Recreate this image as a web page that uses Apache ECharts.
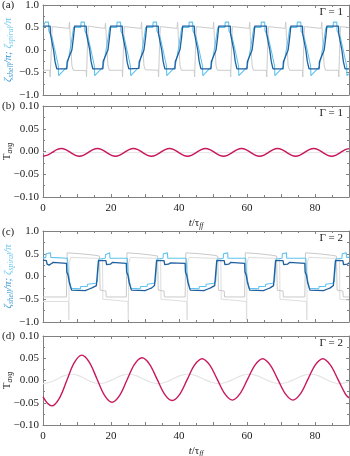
<!DOCTYPE html>
<html lang="en">
<head>
<meta charset="UTF-8">
<title>zeta / T_avg</title>
<script src="https://cdn.jsdelivr.net/npm/echarts/dist/echarts.min.js"></script>
<style>
  html, body { margin: 0; padding: 0; background: #fff; }
  #chart { width: 350px; height: 456px; }
</style>
</head>
<body>
<div id="chart"></div>
<script>
// tick labels
var xTickLabels = [0, 20, 40, 60, 80];
var zetaTicks = [-1, -0.5, 0, 0.5, 1];
var tavgTicks = [-0.1, -0.05, 0, 0.05, 0.1];

// (a) Gamma = 1, zeta_shell / pi  [t, value]
var shellG1 = [
  [0, 0.53], [2.1, 0.53], [2.2, 0.35], [3.1, 0.0], [3.55, -0.26], [4.05, -0.42], [7.0, -0.42], [7.1, -0.26], [8.5, 0.0], [9.0, 0.31], [9.3, 0.53],
  [12.7, 0.53], [12.8, 0.35], [13.7, 0.02], [14.15, -0.26], [14.65, -0.42], [17.6, -0.42], [17.7, -0.25], [19.1, 0.0], [19.6, 0.31], [19.9, 0.53],
  [23.3, 0.53], [23.4, 0.34], [24.3, 0.0], [24.75, -0.27], [25.25, -0.42], [28.2, -0.41], [28.3, -0.26], [29.7, 0.0], [30.2, 0.3], [30.5, 0.53],
  [33.9, 0.53], [34.0, 0.35], [34.9, 0.0], [35.35, -0.26], [35.85, -0.42], [38.8, -0.42], [38.9, -0.26], [40.3, 0.01], [40.8, 0.31], [41.1, 0.53],
  [44.5, 0.53], [44.6, 0.35], [45.5, 0.0], [45.95, -0.26], [46.45, -0.42], [49.4, -0.42], [49.5, -0.26], [50.9, 0.0], [51.4, 0.31], [51.7, 0.53],
  [55.1, 0.53], [55.2, 0.34], [56.1, 0.0], [56.55, -0.26], [57.05, -0.42], [60.0, -0.42], [60.1, -0.26], [61.5, 0.0], [62.0, 0.31], [62.3, 0.53],
  [65.7, 0.53], [65.8, 0.35], [66.7, 0.0], [67.15, -0.26], [67.65, -0.42], [70.6, -0.42], [70.7, -0.26], [72.1, 0.0], [72.6, 0.31], [72.9, 0.53],
  [76.3, 0.53], [76.4, 0.35], [77.3, 0.0], [77.75, -0.26], [78.25, -0.42], [81.2, -0.42], [81.3, -0.26], [82.7, 0.0], [83.2, 0.31], [83.5, 0.53],
  [86.9, 0.53], [87.0, 0.35], [87.9, 0.0], [88.35, -0.26], [88.85, -0.42], [90, -0.42]
];

// (a) Gamma = 1, zeta_spiral / pi
var spiralG1 = [
  [0, 0.5], [0.5, 0.5], [0.6, 0.62], [1.6, 0.62], [1.7, 0.42],
  [2.1, 0.42], [2.6, 0.3], [3.5, 0.0], [4.5, -0.35], [4.6, -0.57], [7.0, -0.38], [7.5, -0.2], [8.4, 0.2], [9.0, 0.5], [11.1, 0.5], [11.2, 0.62], [12.2, 0.62], [12.3, 0.42],
  [12.7, 0.42], [13.2, 0.3], [14.1, 0.0], [15.1, -0.35], [15.2, -0.57], [17.6, -0.38], [18.1, -0.2], [19.0, 0.2], [19.6, 0.5], [21.7, 0.5], [21.8, 0.62], [22.8, 0.62], [22.9, 0.42],
  [23.3, 0.42], [23.8, 0.3], [24.7, 0.0], [25.7, -0.35], [25.8, -0.57], [28.2, -0.38], [28.7, -0.2], [29.6, 0.2], [30.2, 0.5], [32.3, 0.5], [32.4, 0.62], [33.4, 0.62], [33.5, 0.42],
  [33.9, 0.42], [34.4, 0.3], [35.3, 0.0], [36.3, -0.35], [36.4, -0.57], [38.8, -0.38], [39.3, -0.2], [40.2, 0.2], [40.8, 0.5], [42.9, 0.5], [43.0, 0.62], [44.0, 0.62], [44.1, 0.42],
  [44.5, 0.42], [45.0, 0.3], [45.9, 0.0], [46.9, -0.35], [47.0, -0.57], [49.4, -0.38], [49.9, -0.2], [50.8, 0.2], [51.4, 0.5], [53.5, 0.5], [53.6, 0.62], [54.6, 0.62], [54.7, 0.42],
  [55.1, 0.42], [55.6, 0.3], [56.5, 0.0], [57.5, -0.35], [57.6, -0.57], [60.0, -0.38], [60.5, -0.2], [61.4, 0.2], [62.0, 0.5], [64.1, 0.5], [64.2, 0.62], [65.2, 0.62], [65.3, 0.42],
  [65.7, 0.42], [66.2, 0.3], [67.1, 0.0], [68.1, -0.35], [68.2, -0.57], [70.6, -0.38], [71.1, -0.2], [72.0, 0.2], [72.6, 0.5], [74.7, 0.5], [74.8, 0.62], [75.8, 0.62], [75.9, 0.42],
  [76.3, 0.42], [76.8, 0.3], [77.7, 0.0], [78.7, -0.35], [78.8, -0.57], [81.2, -0.38], [81.7, -0.2], [82.6, 0.2], [83.2, 0.5], [85.3, 0.5], [85.4, 0.62], [86.4, 0.62], [86.5, 0.42],
  [86.9, 0.42], [87.4, 0.3], [88.3, 0.0], [89.3, -0.35], [89.4, -0.57], [90, -0.53]
];

// (a) Gamma = 1, grey reference curve
var greyG1 = [
  [0, -0.45], [2.0, -0.45], [2.1, -0.6], [2.4, -0.1], [2.7, 0.52], [7.6, 0.48], [7.8, 0.62], [8.0, 0.3], [8.5, -0.35], [8.9, -0.45],
  [12.7, -0.46], [12.8, -0.6], [13.0, -0.1], [13.3, 0.53], [18.2, 0.48], [18.4, 0.6], [18.6, 0.3], [19.1, -0.35], [19.5, -0.45],
  [23.3, -0.45], [23.4, -0.6], [23.6, -0.1], [23.9, 0.52], [28.8, 0.48], [29.0, 0.62], [29.2, 0.3], [29.7, -0.35], [30.1, -0.44],
  [33.9, -0.45], [34.0, -0.6], [34.2, -0.1], [34.5, 0.52], [39.4, 0.48], [39.6, 0.62], [39.8, 0.3], [40.3, -0.35], [40.7, -0.45],
  [44.5, -0.45], [44.6, -0.6], [44.8, -0.1], [45.1, 0.52], [50.0, 0.48], [50.2, 0.62], [50.4, 0.3], [50.9, -0.35], [51.3, -0.45],
  [55.1, -0.45], [55.2, -0.6], [55.4, -0.1], [55.7, 0.52], [60.6, 0.48], [60.8, 0.62], [61.0, 0.3], [61.5, -0.35], [61.9, -0.45],
  [65.7, -0.45], [65.8, -0.6], [66.0, -0.1], [66.3, 0.52], [71.2, 0.48], [71.4, 0.62], [71.6, 0.3], [72.1, -0.35], [72.5, -0.45],
  [76.3, -0.45], [76.4, -0.6], [76.6, -0.1], [76.9, 0.52], [81.8, 0.48], [82.0, 0.62], [82.2, 0.3], [82.7, -0.35], [83.1, -0.45],
  [86.9, -0.45], [87.0, -0.6], [87.2, -0.1], [87.5, 0.52], [90, 0.5]
];

// (b) Gamma = 1, T_avg
var tavgG1 = [
  [0, -0.0105], [1.35, -0.008], [2.75, -0.002], [4.05, 0.004], [5.4, 0.0065], [6.7, 0.004], [8.05, -0.002], [9.4, -0.008],
  [10.7, -0.0105], [12.0, -0.008], [13.35, -0.002], [14.7, 0.004], [16.0, 0.0065], [17.3, 0.004], [18.65, -0.002], [20.0, -0.008],
  [21.3, -0.0105], [22.6, -0.008], [23.95, -0.002], [25.3, 0.004], [26.6, 0.0065], [27.9, 0.004], [29.25, -0.002], [30.6, -0.008],
  [31.9, -0.0105], [33.2, -0.008], [34.55, -0.002], [35.9, 0.004], [37.2, 0.0065], [38.5, 0.004], [39.85, -0.002], [41.2, -0.008],
  [42.5, -0.0105], [43.8, -0.008], [45.15, -0.002], [46.5, 0.004], [47.8, 0.0065], [49.1, 0.004], [50.45, -0.002], [51.8, -0.008],
  [53.1, -0.0105], [54.4, -0.008], [55.75, -0.002], [57.1, 0.004], [58.4, 0.0065], [59.7, 0.004], [61.05, -0.002], [62.4, -0.008],
  [63.7, -0.0105], [65.0, -0.008], [66.35, -0.002], [67.7, 0.004], [69.0, 0.0065], [70.3, 0.004], [71.65, -0.002], [73.0, -0.008],
  [74.3, -0.0105], [75.6, -0.008], [76.95, -0.002], [78.3, 0.004], [79.6, 0.0065], [80.9, 0.004], [82.25, -0.002], [83.6, -0.008],
  [84.9, -0.0105], [86.2, -0.008], [87.55, -0.002], [88.9, 0.004], [90, 0.0064]
];
var tavgGreyG1 = [[0, -0.0025], [45, -0.0025], [90, -0.0025]];

// (c) Gamma = 2, zeta_shell / pi
var shellG2 = [
  [0, 0.36], [1.0, 0.35], [1.2, 0.27], [1.8, 0.25], [2.4, 0.28], [3.0, 0.31], [6.9, 0.29],
  [7.0, 0.1], [7.4, 0.02], [7.7, -0.12], [8.0, -0.2], [8.4, -0.3], [12.4, -0.31], [13.4, -0.28], [14.4, -0.25], [15.7, -0.2], [16.2, -0.18],
  [16.3, 0.35], [18.5, 0.35], [18.7, 0.26], [19.2, 0.24], [19.8, 0.27], [20.4, 0.31], [24.5, 0.29],
  [24.6, 0.1], [25.0, 0.02], [25.3, -0.12], [25.6, -0.2], [26.0, -0.3], [30.0, -0.31], [31.0, -0.28], [32.0, -0.25], [32.8, -0.2], [33.3, -0.18],
  [33.4, 0.35], [35.6, 0.35], [35.8, 0.26], [36.3, 0.23], [36.9, 0.27], [37.5, 0.3], [41.8, 0.29],
  [41.9, 0.1], [42.3, 0.02], [42.6, -0.12], [42.9, -0.2], [43.3, -0.3], [47.3, -0.31], [48.3, -0.28], [49.3, -0.25], [50.5, -0.2], [51.0, -0.18],
  [51.1, 0.35], [53.3, 0.35], [53.5, 0.26], [54.0, 0.24], [54.6, 0.27], [55.2, 0.31], [59.3, 0.29],
  [59.4, 0.1], [59.8, 0.02], [60.1, -0.12], [60.4, -0.2], [60.8, -0.3], [64.8, -0.31], [65.8, -0.28], [66.8, -0.25], [67.8, -0.2], [68.3, -0.18],
  [68.4, 0.35], [70.6, 0.35], [70.8, 0.26], [71.3, 0.24], [71.9, 0.27], [72.5, 0.31], [77.0, 0.29],
  [77.1, 0.1], [77.5, 0.02], [77.8, -0.12], [78.1, -0.2], [78.5, -0.3], [82.5, -0.31], [83.5, -0.28], [84.5, -0.25], [85.4, -0.2], [85.9, -0.18],
  [86.0, 0.35], [88.2, 0.35], [88.4, 0.26], [88.9, 0.24], [89.5, 0.27], [90, 0.3]
];

// (c) Gamma = 2, zeta_spiral / pi
var spiralG2 = [
  [0, 0.4], [0.8, 0.42], [0.9, 0.5], [2.2, 0.52], [2.3, 0.42], [7.2, 0.4], [7.4, 0.1], [7.8, -0.1], [8.3, -0.26], [11.0, -0.27], [11.1, -0.22], [13.0, -0.22], [13.1, -0.17], [15.5, -0.15], [16.0, -0.1],
  [16.4, 0.38], [18.3, 0.4], [18.4, 0.48], [19.6, 0.52], [19.7, 0.4], [24.8, 0.4], [25.0, 0.1], [25.4, -0.1], [25.9, -0.26], [28.6, -0.27], [28.7, -0.22], [30.6, -0.22], [30.7, -0.17], [32.6, -0.15], [33.1, -0.1],
  [33.5, 0.38], [35.3, 0.4], [35.4, 0.5], [36.6, 0.52], [36.7, 0.4], [42.1, 0.4], [42.3, 0.1], [42.7, -0.1], [43.2, -0.26], [45.9, -0.27], [46.0, -0.22], [47.9, -0.22], [48.0, -0.17], [50.3, -0.15], [50.8, -0.1],
  [51.2, 0.38], [53.0, 0.4], [53.1, 0.5], [54.3, 0.52], [54.4, 0.4], [59.6, 0.4], [59.8, 0.1], [60.2, -0.1], [60.7, -0.26], [63.4, -0.27], [63.5, -0.22], [65.4, -0.22], [65.5, -0.17], [67.6, -0.15], [68.1, -0.1],
  [68.5, 0.38], [70.3, 0.4], [70.4, 0.5], [71.6, 0.52], [71.7, 0.4], [77.3, 0.4], [77.5, 0.1], [77.9, -0.1], [78.4, -0.26], [81.1, -0.27], [81.2, -0.22], [83.1, -0.22], [83.2, -0.17], [85.2, -0.15], [85.7, -0.1],
  [86.1, 0.38], [87.9, 0.4], [88.0, 0.5], [89.2, 0.52], [89.3, 0.42], [90, 0.42]
];

// (c) Gamma = 2, grey reference curves
var greyAG2 = [
  [0, -0.45], [6.9, -0.45], [7.1, 0.52], [11, 0.5], [15, 0.47], [16.6, 0.45], [16.8, -0.3], [18.5, -0.32], [18.6, -0.45],
  [24.5, -0.45], [24.7, 0.52], [28.5, 0.5], [32, 0.47], [33.7, 0.45], [33.9, -0.3], [35.6, -0.32], [35.7, -0.45],
  [41.8, -0.45], [42.0, 0.52], [46, 0.5], [50, 0.47], [51.4, 0.45], [51.6, -0.3], [53.3, -0.32], [53.4, -0.45],
  [59.3, -0.45], [59.5, 0.52], [63.5, 0.5], [67, 0.47], [68.7, 0.45], [68.9, -0.3], [70.6, -0.32], [70.7, -0.45],
  [77.0, -0.45], [77.2, 0.52], [81, 0.5], [84.5, 0.47], [86.3, 0.45], [86.5, -0.3], [88.2, -0.32], [88.3, -0.45], [90, -0.45]
];
var greyBG2 = [
  [0, -0.55], [7.5, -0.55], [7.6, -0.95], [7.7, 0.3], [8.2, 0.42], [15.5, 0.4], [17.5, 0.4], [17.6, -0.5], [21, -0.52],
  [25.0, -0.55], [25.1, -0.95], [25.2, 0.3], [25.7, 0.42], [32.5, 0.4], [34.6, 0.4], [34.7, -0.5], [38, -0.52],
  [42.3, -0.55], [42.4, -0.95], [42.5, 0.3], [43, 0.42], [50, 0.4], [52.3, 0.4], [52.4, -0.5], [56, -0.52],
  [59.8, -0.55], [59.9, -0.95], [60, 0.3], [60.5, 0.42], [67.5, 0.4], [69.6, 0.4], [69.7, -0.5], [73, -0.52],
  [77.5, -0.55], [77.6, -0.95], [77.7, 0.3], [78.2, 0.42], [85, 0.4], [87.2, 0.4], [87.3, -0.5], [90, -0.52]
];

// (d) Gamma = 2, T_avg
var tavgG2 = [
  [0, -0.037], [1.3, -0.051], [2.6, -0.057], [4.8, -0.040], [7.0, 0.0], [9.2, 0.040], [11.4, 0.057],
  [13.6, 0.0415], [15.85, 0.004], [18.1, -0.0335], [20.3, -0.049], [22.5, -0.034], [24.7, 0.001], [26.9, 0.036],
  [29.1, 0.051], [31.3, 0.037], [33.55, 0.003], [35.8, -0.031], [38.0, -0.045], [40.2, -0.031], [42.4, 0.002],
  [44.6, 0.035], [46.8, 0.049], [49.0, 0.035], [51.25, 0.0025], [53.5, -0.030], [55.7, -0.044], [57.9, -0.030],
  [60.15, 0.0025], [62.4, 0.035], [64.6, 0.049], [66.8, 0.035], [69.05, 0.0025], [71.3, -0.030], [73.5, -0.044],
  [75.7, -0.030], [77.9, 0.0025], [80.1, 0.035], [82.3, 0.049], [84.5, 0.035], [86.75, 0.0025], [89.0, -0.031], [90, -0.039]
];
var tavgGreyG2 = [
  [0, -0.007], [2.1, -0.004], [4.2, 0.0035], [6.3, 0.011], [8.4, 0.014], [10.45, 0.011], [12.5, 0.0035], [14.55, -0.004],
  [16.6, -0.007], [18.75, -0.004], [20.9, 0.0035], [23.05, 0.011], [25.2, 0.014], [27.35, 0.011], [29.5, 0.0035], [31.7, -0.004],
  [33.9, -0.007], [36.05, -0.004], [38.2, 0.0035], [40.4, 0.011], [42.6, 0.014], [44.9, 0.011], [47.2, 0.0035], [49.5, -0.004],
  [51.8, -0.007], [54.0, -0.004], [56.2, 0.0035], [58.4, 0.011], [60.6, 0.014], [62.85, 0.011], [65.1, 0.0035], [67.35, -0.004],
  [69.6, -0.007], [71.9, -0.004], [74.2, 0.0035], [76.5, 0.011], [78.8, 0.014], [80.9, 0.011], [83.0, 0.0035], [85.1, -0.004],
  [87.2, -0.007], [90, -0.002]
];

var FONT = 'Liberation Serif';
var FRAME = '#808080';
var INK = '#1a1a1a';
var SHELL = '#1f5f9e';
var SPIRAL = '#5ec3ef';
var RED = '#c8175c';

function fmtY(dec) {
  return function (v) {
    var s = Math.abs(v) < 1e-9 ? (0).toFixed(dec) : v.toFixed(dec);
    return s.replace('-', '\u2212');
  };
}

function xAx(gi, pos, labels) {
  return {
    type: 'value', gridIndex: gi, position: pos, min: 0, max: 90, interval: 10,
    axisLine: { show: true, onZero: false, lineStyle: { color: FRAME, width: 1 } },
    axisTick: { show: true, inside: true, length: 3, lineStyle: { color: FRAME } },
    minorTick: { show: true, splitNumber: 2, length: 2, lineStyle: { color: FRAME } },
    splitLine: { show: false },
    axisLabel: {
      show: labels, margin: 6, fontFamily: FONT, fontSize: 11, color: INK,
      formatter: function (v) { return xTickLabels.indexOf(v) >= 0 ? String(v) : ''; }
    },
    name: labels ? '{i|t}{n|/\u03c4}{sub|ff}' : '',
    nameLocation: 'middle', nameGap: 19, nameMoveOverlap: false,
    nameTextStyle: {
      rich: {
        i: { fontFamily: FONT, fontSize: 11, fontStyle: 'italic', color: INK, lineHeight: 14 },
        n: { fontFamily: FONT, fontSize: 11, color: INK, lineHeight: 14 },
        sub: { fontFamily: FONT, fontSize: 7.5, fontStyle: 'italic', color: INK, verticalAlign: 'bottom', lineHeight: 10 }
      }
    }
  };
}

function yAx(gi, pos, kind) {
  var zeta = kind === 'zeta';
  var ticks = zeta ? zetaTicks : tavgTicks;
  var left = pos === 'left';
  return {
    type: 'value', gridIndex: gi, position: pos,
    min: ticks[0], max: ticks[ticks.length - 1], interval: ticks[1] - ticks[0],
    axisLine: { show: true, onZero: false, lineStyle: { color: FRAME, width: 1 } },
    axisTick: { show: true, inside: true, length: 3, lineStyle: { color: FRAME } },
    minorTick: { show: true, splitNumber: 2, length: 2, lineStyle: { color: FRAME } },
    splitLine: { show: false },
    axisLabel: { show: left, margin: 4, fontFamily: FONT, fontSize: 11, color: INK, formatter: fmtY(zeta ? 1 : 2) },
    name: !left ? '' : (zeta
      ? '{a|\u03b6}{as|shell}{a|/\u03c0; }{b|\u03b6}{bs|spiral}{b|/\u03c0}'
      : '{t|T}{sub|avg}'),
    nameLocation: 'middle', nameRotate: 90, nameGap: zeta ? 28 : 29, nameMoveOverlap: false,
    nameTextStyle: {
      rich: {
        a: { fontFamily: FONT, fontSize: 11, fontStyle: 'italic', color: '#3c9ad6', lineHeight: 14 },
        as: { fontFamily: FONT, fontSize: 7.5, fontStyle: 'italic', color: '#3c9ad6', verticalAlign: 'bottom', lineHeight: 10 },
        b: { fontFamily: FONT, fontSize: 11, fontStyle: 'italic', color: '#6cc8f0', lineHeight: 14 },
        bs: { fontFamily: FONT, fontSize: 7.5, fontStyle: 'italic', color: '#6cc8f0', verticalAlign: 'bottom', lineHeight: 10 },
        t: { fontFamily: FONT, fontSize: 11, color: INK, lineHeight: 14 },
        sub: { fontFamily: FONT, fontSize: 7.5, fontStyle: 'italic', color: INK, verticalAlign: 'bottom', lineHeight: 10 }
      }
    }
  };
}

function line(data, gi, color, width, z) {
  return {
    type: 'line', data: data, xAxisIndex: gi * 2, yAxisIndex: gi * 2,
    showSymbol: false, symbol: 'none', smooth: false, z: z || 2,
    lineStyle: { color: color, width: width }, silent: true
  };
}

function smoothLine(data, gi, color, width, z) {
  var s = line(data, gi, color, width, z);
  s.smooth = 0.35;
  return s;
}

var grids = [
  { left: 43, right: 1, top: 5, height: 90 },
  { left: 43, right: 1, top: 106, height: 91 },
  { left: 43, right: 1, top: 231, height: 91 },
  { left: 43, right: 1, top: 336, height: 89 }
];
grids.forEach(function (g) { g.containLabel = false; g.outerBoundsMode = 'none'; });

var kinds = ['zeta', 'tavg', 'zeta', 'tavg'];
var xAxes = [], yAxes = [];
kinds.forEach(function (k, i) {
  xAxes.push(xAx(i, 'bottom', k === 'tavg'));
  xAxes.push(xAx(i, 'top', false));
  yAxes.push(yAx(i, 'left', k));
  yAxes.push(yAx(i, 'right', k));
});

function txt(x, y, s, anchor) {
  return {
    type: 'text', x: x, y: y, silent: true,
    style: { text: s, fontFamily: FONT, fontSize: 11, fill: INK, align: anchor || 'left', verticalAlign: 'middle' }
  };
}

var option = {
  animation: false,
  backgroundColor: '#fff',
  grid: grids,
  xAxis: xAxes,
  yAxis: yAxes,
  graphic: [
    txt(2, 5, '(a)'), txt(2, 106, '(b)'), txt(2, 232, '(c)'), txt(2, 336, '(d)'),
    txt(343, 12, '\u0393 = 1', 'right'), txt(343, 113, '\u0393 = 1', 'right'),
    txt(343, 238, '\u0393 = 2', 'right'), txt(343, 343, '\u0393 = 2', 'right')
  ],
  series: [
    line(greyG1, 0, '#cbcbcb', 1),
    line(spiralG1, 0, SPIRAL, 1.1),
    line(shellG1, 0, SHELL, 1.3),
    line(tavgGreyG1, 1, '#e4e4e4', 1),
    smoothLine(tavgG1, 1, RED, 1.4),
    line(greyBG2, 2, '#dedede', 1),
    line(greyAG2, 2, '#c9c9c9', 1),
    line(spiralG2, 2, SPIRAL, 1.1),
    line(shellG2, 2, SHELL, 1.3),
    smoothLine(tavgGreyG2, 3, '#e4e4e4', 1.2),
    smoothLine(tavgG2, 3, RED, 1.4)
  ]
};

var myChart = echarts.init(document.getElementById('chart'), null, { renderer: 'canvas' });
myChart.setOption(option);
</script>
</body>
</html>
